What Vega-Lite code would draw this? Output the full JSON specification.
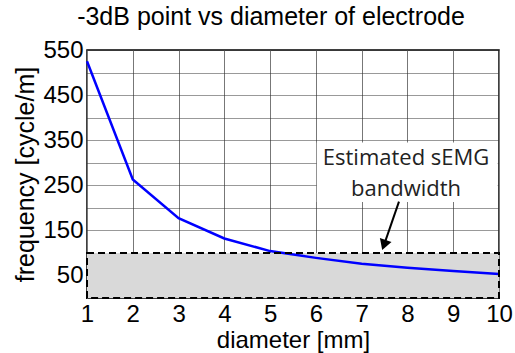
{
  "$schema": "https://vega.github.io/schema/vega-lite/v6.json",
  "width": 412,
  "height": 248,
  "autosize": {"type": "none"},
  "padding": {"left": 87, "top": 50, "right": 16, "bottom": 55},
  "background": "white",
  "title": {
    "text": "-3dB point vs diameter of electrode",
    "font": "Liberation Sans",
    "fontSize": 25,
    "fontWeight": "normal",
    "color": "black",
    "anchor": "middle",
    "dx": -22,
    "offset": 8
  },
  "config": {
    "view": {"stroke": "black", "strokeWidth": 1.5},
    "axis": {
      "labelFont": "Liberation Sans",
      "titleFont": "Liberation Sans",
      "labelColor": "black",
      "titleColor": "black",
      "titleFontWeight": "normal",
      "labelFontSize": 24,
      "titleFontSize": 24,
      "ticks": false,
      "domain": false,
      "labelFlush": false,
      "labelOverlap": false
    }
  },
  "datasets": {
    "curve": [
      {"x": 1, "y": 525},
      {"x": 2, "y": 263},
      {"x": 3, "y": 177},
      {"x": 4, "y": 132},
      {"x": 5, "y": 104},
      {"x": 6, "y": 89},
      {"x": 7, "y": 76},
      {"x": 8, "y": 67},
      {"x": 9, "y": 60},
      {"x": 10, "y": 53}
    ]
  },
  "encoding": {
    "x": {
      "field": "x",
      "type": "quantitative",
      "scale": {"domain": [1, 10], "nice": false, "zero": false},
      "axis": {
        "values": [1, 2, 3, 4, 5, 6, 7, 8, 9, 10],
        "title": "diameter [mm]",
        "grid": true,
        "gridColor": "#777777",
        "gridWidth": 1,
        "labelPadding": 4,
        "titlePadding": 2
      }
    },
    "y": {
      "field": "y",
      "type": "quantitative",
      "scale": {"domain": [0, 550], "nice": false},
      "axis": {
        "values": [0, 50, 100, 150, 200, 250, 300, 350, 400, 450, 500, 550],
        "labelExpr": "datum.value % 100 == 50 ? datum.label : ''",
        "title": "frequency [cycle/m]",
        "titleFontSize": 25,
        "grid": true,
        "gridColor": "#333333",
        "gridDash": [1, 1],
        "gridWidth": 1,
        "labelPadding": 4,
        "titlePadding": 4
      }
    }
  },
  "layer": [
    {
      "data": {"values": [{"x": 1, "x2": 10, "y": 0, "y2": 100}]},
      "mark": {"type": "rect", "fill": "#d9d9d9", "stroke": null},
      "encoding": {"x2": {"field": "x2"}, "y2": {"field": "y2"}}
    },
    {
      "data": {"values": [{"x": 6.02, "x2": 9.97, "y": 213, "y2": 345}]},
      "mark": {"type": "rect", "fill": "white", "stroke": null},
      "encoding": {"x2": {"field": "x2"}, "y2": {"field": "y2"}}
    },
    {
      "data": {"name": "curve"},
      "mark": {"type": "line", "color": "#0000ff", "strokeWidth": 2.5}
    },
    {
      "data": {"values": [{"x": 1, "x2": 10, "y": 0, "y2": 100}]},
      "mark": {"type": "rect", "fill": null, "fillOpacity": 0, "stroke": "black", "strokeWidth": 2, "strokeDash": [7, 4]},
      "encoding": {"x2": {"field": "x2"}, "y2": {"field": "y2"}}
    },
    {
      "data": {"values": [
        {"x": 7.97, "y": 310, "label": "Estimated sEMG"},
        {"x": 7.97, "y": 242, "label": "bandwidth"}
      ]},
      "mark": {"type": "text", "font": "Open Sans", "fontSize": 22, "color": "#222222", "baseline": "middle", "align": "center"},
      "encoding": {"text": {"field": "label"}}
    },
    {
      "data": {"values": [{"x": 7.815, "y": 213.6, "x2": 7.487, "y2": 117.3}]},
      "mark": {"type": "rule", "color": "black", "strokeWidth": 2},
      "encoding": {"x2": {"field": "x2"}, "y2": {"field": "y2"}}
    },
    {
      "data": {"values": [{"x": 7.487, "y": 117.3}]},
      "mark": {"type": "point", "shape": "triangle-down", "filled": true, "color": "black", "size": 150, "angle": 19, "opacity": 1}
    }
  ]
}
